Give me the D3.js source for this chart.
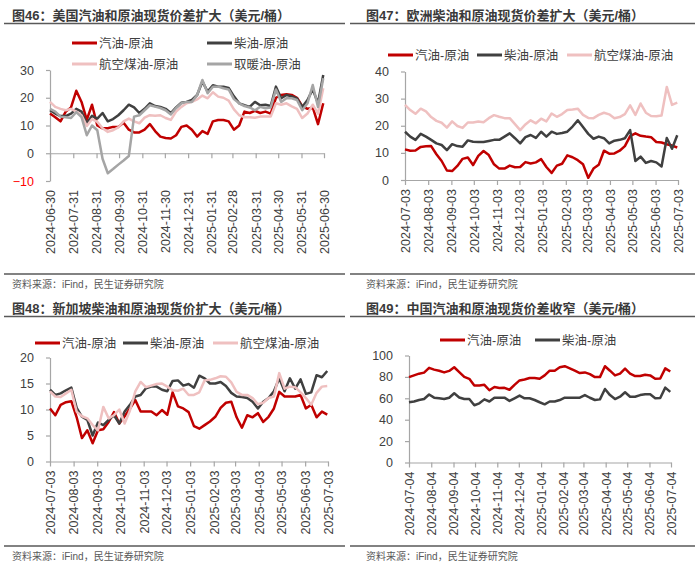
<html>
<script src='https://d3js.org/d3.v7.min.js'></script>
<style>
    body { margin: 0; background: #fff; }
    text { font-family: "Liberation Sans", Arial, "Noto Sans CJK SC", sans-serif; }
    .title { font-size: 13px; font-weight: bold; fill: #3a3a3a; }
    .source { font-size: 10px; fill: #595959; }
    .legend { font-size: 12.5px; fill: #404040; }
    .axis text { font-size: 12.5px; }
    .axis path, .axis line { stroke: #a6a6a6; stroke-width: 1.2; }
</style>

<body onload='init()'>
    <svg width=700 height=567></svg>
    <script>
        // series names + colours
        const names4 = ['汽油-原油', '柴油-原油', '航空煤油-原油', '取暖油-原油'];
        const colors = ['#C00000', '#404040', '#EFC0C0', '#A5A5A5'];

        // x tick labels
        const ticks46 = ['2024-06-30', '2024-07-31', '2024-08-31', '2024-09-30', '2024-10-31', '2024-11-30', '2024-12-31',
            '2025-01-31', '2025-02-28', '2025-03-31', '2025-04-30', '2025-05-31', '2025-06-30'];
        const ticks47 = ['2024-07-03', '2024-08-03', '2024-09-03', '2024-10-03', '2024-11-03', '2024-12-03', '2025-01-03',
            '2025-02-03', '2025-03-03', '2025-04-03', '2025-05-03', '2025-06-03', '2025-07-03'];
        const ticks49 = ['2024-07-04', '2024-08-04', '2024-09-04', '2024-10-04', '2024-11-04', '2024-12-04', '2025-01-04',
            '2025-02-04', '2025-03-04', '2025-04-04', '2025-05-04', '2025-06-04', '2025-07-04'];

        // weekly values, fig 46 (US)
        const gas46 = [14.3, 13, 11.5, 15, 16.5, 22.5, 18.5, 12, 17.5, 10, 9, 9, 9.5, 9.5, 11, 8.5, 7.5, 7.5, 8.5, 10.5, 8, 6, 5.5, 5.3, 6.5, 9.5, 10, 8.5, 6, 8, 7, 11.5, 12, 12, 11.5, 8.5, 10, 15, 14.5, 15.3, 14.5, 15, 14.3, 20, 21, 21.3, 21, 20, 17, 16, 16.5, 10.5, 18];
        const diesel46 = [15.5, 14.3, 13.4, 13.4, 14.3, 16, 15, 10.8, 13.5, 12.5, 14.5, 11.5, 12.3, 13.7, 15.5, 17.5, 16.5, 14.5, 16, 18, 17, 16.7, 16, 14.5, 16.5, 18.2, 18.5, 19.2, 21, 25.8, 22.2, 24.5, 24, 24, 23.5, 20.5, 18, 17.3, 16.7, 18.5, 17.3, 17.5, 17, 24, 19.8, 21, 20.5, 19.8, 16.7, 19.2, 23, 18, 28.2];
        const jet46 = [18.5, 16.7, 16, 15.5, 16, 15, 13.7, 9.8, 12.3, 11.3, 9, 7.7, 8.3, 9.3, 11.5, 12.5, 11.5, 10.8, 12.8, 13.7, 13.5, 13.7, 12.7, 12, 15, 16.7, 18, 18.5, 19.4, 20.8, 19.8, 22, 20.4, 20, 19, 15.8, 13.7, 13, 13, 12.8, 13.2, 13.2, 13.2, 18, 17.5, 18, 16.9, 16, 12.7, 14.3, 17.5, 14.3, 23.4];
        const heat46 = [16, 15, 13.2, 13, 12.7, 14.8, 13, 6.5, 10, 8.3, -2, -7.2, -5.7, -4.1, -2.6, -1, 13.2, 13.7, 15.5, 17.3, 16.8, 16.3, 15.5, 14, 16.3, 18, 18.5, 18.5, 21, 26.4, 21.6, 24, 24, 23.4, 23, 19.5, 18, 17, 16.5, 15.5, 16.7, 16.2, 16.5, 23, 18.5, 19.8, 19.8, 19.2, 15.5, 18, 24.6, 16.7, 27];

        // fig 47 (Europe)
        const gas47 = [11.3, 10.8, 10.9, 12.2, 12.4, 12.5, 9.5, 7, 3.5, 3.3, 5.2, 7.8, 8.3, 5.5, 8.9, 10.7, 9.2, 5.8, 4.2, 4.2, 5.3, 4.7, 4.8, 6.6, 6.1, 6.5, 7.7, 4.8, 2.6, 5.3, 6, 9.1, 8.4, 7.3, 5.8, 0.8, 4.2, 5.6, 10.8, 9.7, 9.8, 10.8, 12.5, 16.2, 17.2, 16.3, 16, 15.8, 14, 13.8, 13.2, 12.7, 12];
        const diesel47 = [17.8, 16, 14.8, 17, 16, 14.8, 13.5, 12.9, 11, 13.2, 12.5, 12.3, 14.6, 14.1, 14, 14, 14.4, 14.8, 14.8, 16, 17.2, 15.4, 13.5, 15.8, 16.6, 15.5, 17.8, 16, 17.8, 17, 17.3, 17.8, 19.7, 22, 19.5, 17, 15.2, 16, 15.4, 13.5, 14.5, 14.8, 15.4, 18.4, 7, 8.6, 6.3, 7, 6.5, 5, 15.5, 11.5, 16.5];
        const jet47 = [27.7, 25.8, 24.4, 26.3, 25.3, 23.2, 21.8, 21.1, 19.3, 21.6, 19.9, 19.2, 21.2, 21.2, 21.6, 21.3, 22.8, 23.9, 23.3, 22.8, 22.8, 20.6, 18.4, 20.5, 22, 20.9, 22.6, 21.6, 24.5, 23.3, 24.3, 25.8, 26, 26.3, 24, 22.9, 22.8, 24, 24.8, 24.2, 22.8, 23.2, 24.3, 27.5, 24, 28.2, 24.8, 23.6, 23.5, 23.8, 34.3, 27.7, 28.5];

        // fig 48 (Singapore)
        const gas48 = [10.2, 8.9, 10.9, 11.4, 11.6, 8.5, 4.5, 6, 3.5, 6, 6.2, 7.6, 9.5, 7.3, 8.7, 10.2, 11.8, 9.6, 9.6, 9.6, 8.9, 9.9, 9, 13.3, 10.6, 10.2, 9.5, 6.8, 6.3, 7, 7.7, 8.6, 10.3, 11.3, 11.5, 8.5, 6.5, 8.9, 8.5, 9.3, 7.6, 8.6, 10.2, 13.4, 12.5, 12.5, 12.5, 12.8, 10.2, 10.9, 8.5, 9.6, 9];
        const diesel48 = [13.8, 12.8, 13.1, 13.7, 14.2, 10.3, 8.6, 8, 5, 7.5, 7, 8, 8.9, 7.3, 9.6, 10.9, 12.5, 12.8, 14.1, 14.4, 14.4, 13.8, 13.5, 15.5, 15.6, 14.6, 14.9, 14.2, 16.5, 16, 15, 15, 15.3, 14.5, 13.2, 12.5, 12.4, 12.2, 11.5, 10.2, 11.5, 12.2, 13.5, 16, 13.5, 16, 14, 15.8, 13, 13.3, 16.6, 16.2, 17.4];
        const jet48 = [13.5, 12.5, 12.4, 13.1, 13.8, 9.6, 8.7, 8.3, 7, 6, 10.5, 8.3, 8.9, 10, 7.3, 9.8, 13.5, 15.3, 14.3, 14.6, 14.9, 15, 14.4, 13.7, 13.6, 14, 12.8, 12.8, 13.3, 15.6, 15.7, 16, 16.4, 16.3, 15.2, 13.4, 12.8, 12.8, 12.2, 11, 11.3, 12.2, 12.5, 17, 14, 14.4, 14.3, 13.3, 12.2, 10.9, 13.2, 14.4, 14.5];

        // fig 49 (China)
        const gas49 = [79.8, 81.4, 83, 84, 88.5, 86.8, 85.8, 84.2, 85.6, 89, 84.5, 80, 78.2, 72, 72, 72.6, 67.5, 70.5, 69.6, 69.8, 68, 72.6, 76.7, 77.6, 78.9, 78.9, 78.2, 81.4, 85.8, 85.8, 89, 90, 88, 85.8, 83.6, 84.2, 82.6, 79.8, 79.8, 90, 85.8, 81.4, 83, 87.7, 83, 80.8, 80.8, 82, 81.4, 78.2, 78.5, 88, 85];
        const diesel49 = [56.3, 57, 58.4, 59.3, 63.5, 60.6, 60, 59.3, 60.5, 64.7, 60.8, 59.3, 59.3, 53.5, 55.3, 59, 57, 60.6, 60.6, 60.6, 57.6, 60, 62.5, 60, 60, 58.4, 56.3, 54.4, 57, 57, 58.4, 60.6, 60.6, 60.6, 60.6, 63, 60.5, 58.4, 59, 68.7, 63, 59.3, 61.5, 65.6, 61.5, 61.5, 63, 63.7, 63.7, 60, 60.3, 70, 66];

        const source = '资料来源：iFind，民生证券研究院';
        const parse = d3.timeParse('%Y-%m-%d');

        function drawPanel(p) {
            const svg = d3.select('svg');
            const tickDates = p.ticks.map(parse);
            const start = tickDates[0];
            const x = d3.scaleTime().domain([start, tickDates[tickDates.length - 1]]).range(p.xr);
            const y = d3.scaleLinear().domain(p.yd).range(p.yr);

            // title + rules
            svg.append('text').attr('class', 'title').attr('x', p.tx).attr('y', p.ty).text(p.title);
            svg.append('line').attr('x1', p.lx[0]).attr('x2', p.lx[1]).attr('y1', p.ruleTop).attr('y2', p.ruleTop)
                .attr('stroke', '#595959').attr('stroke-width', 1.5);
            svg.append('line').attr('x1', p.lx[0]).attr('x2', p.lx[1]).attr('y1', p.ruleBottom).attr('y2', p.ruleBottom)
                .attr('stroke', '#595959').attr('stroke-width', 1.5);
            svg.append('text').attr('class', 'source').attr('x', p.tx).attr('y', p.ruleBottom + 14).text(source);

            // axes
            const xa = svg.append('g').attr('class', 'axis')
                .attr('transform', 'translate(0,' + y(0) + ')')
                .call(d3.axisBottom(x).tickValues(tickDates).tickSize(5).tickSizeOuter(0)
                    .tickFormat(d3.timeFormat('%Y-%m-%d')));
            xa.selectAll('text')
                .attr('x', 0).attr('y', 0).attr('dy', '0.35em')
                .attr('text-anchor', 'end').attr('fill', '#404040')
                .attr('transform', 'translate(0,' + (p.yr[0] + 9 - y(0)) + ') rotate(-90)');

            const ya = svg.append('g').attr('class', 'axis')
                .attr('transform', 'translate(' + p.xr[0] + ',0)')
                .call(d3.axisLeft(y).tickValues(p.yTicks).tickSize(4).tickPadding(12).tickSizeOuter(0));
            ya.selectAll('text').attr('fill', d => d < 0 ? '#FF0000' : '#404040');

            // lines
            const line = d3.line()
                .x((d, i) => x(d3.timeDay.offset(start, 7 * i)))
                .y(d => y(d));
            p.series.forEach((s, k) => {
                svg.append('path').datum(s)
                    .attr('d', line)
                    .attr('fill', 'none')
                    .attr('stroke', colors[k])
                    .attr('stroke-width', 2.5)
                    .attr('stroke-linejoin', 'round');
            });

            // legend
            p.legend.forEach((pos, k) => {
                svg.append('line').attr('x1', pos[0]).attr('x2', pos[0] + 25).attr('y1', pos[1]).attr('y2', pos[1])
                    .attr('stroke', colors[k]).attr('stroke-width', 3);
                svg.append('text').attr('class', 'legend').attr('x', pos[0] + 27).attr('y', pos[1] + 4.5).text(names4[k]);
            });
        }

        function init() {
            drawPanel({
                title: '图46：美国汽油和原油现货价差扩大（美元/桶）', tx: 12, ty: 19.5, lx: [4, 345], ruleTop: 23.5, ruleBottom: 274,
                ticks: ticks46, xr: [50, 324], yd: [-10, 30], yr: [181, 70], yTicks: [-10, 0, 10, 20, 30],
                series: [gas46, diesel46, jet46, heat46],
                legend: [[72, 43], [207, 43], [72, 64], [207, 64]]
            });
            drawPanel({
                title: '图47：欧洲柴油和原油现货价差扩大（美元/桶）', tx: 366, ty: 19.5, lx: [350, 695], ruleTop: 23.5, ruleBottom: 274,
                ticks: ticks47, xr: [405, 678], yd: [0, 40], yr: [180, 71.5], yTicks: [0, 10, 20, 30, 40],
                series: [gas47, diesel47, jet47],
                legend: [[388, 55], [477, 55], [567, 55]]
            });
            drawPanel({
                title: '图48：新加坡柴油和原油现货价扩大（美元/桶）', tx: 12, ty: 312.5, lx: [4, 345], ruleTop: 316.5, ruleBottom: 546,
                ticks: ticks47, xr: [50, 328], yd: [0, 20], yr: [461.5, 357.5], yTicks: [0, 5, 10, 15, 20],
                series: [gas48, diesel48, jet48],
                legend: [[35, 343], [123, 343], [213, 343]]
            });
            drawPanel({
                title: '图49：中国汽油和原油现货价差收窄（美元/桶）', tx: 366, ty: 312.5, lx: [350, 695], ruleTop: 316.5, ruleBottom: 546,
                ticks: ticks49, xr: [409, 671], yd: [0, 100], yr: [462.5, 355.5], yTicks: [0, 20, 40, 60, 80, 100],
                series: [gas49, diesel49],
                legend: [[440, 340], [535, 340]]
            });
        }
    </script>
</body>

</html>
